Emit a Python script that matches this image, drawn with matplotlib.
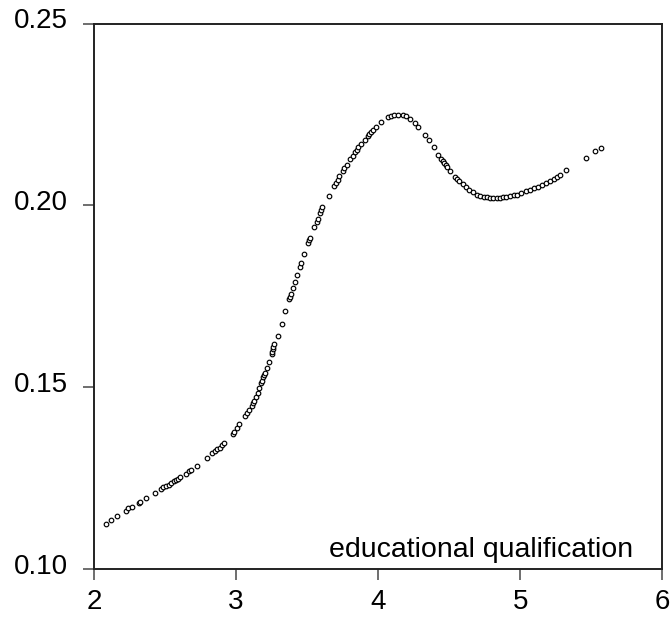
import matplotlib
matplotlib.use('Agg')
import matplotlib.pyplot as plt
import matplotlib.transforms as mtransforms

plt.rcParams['font.family'] = ['Liberation Sans', 'DejaVu Sans']

# Points (education vs fitted value)
educ = [2.082, 2.122, 2.164, 2.223, 2.242, 2.265, 2.315, 2.326, 2.366, 2.432,
        2.472, 2.488, 2.507, 2.526, 2.542, 2.561, 2.577, 2.594, 2.606, 2.646,
        2.667, 2.683, 2.727, 2.796, 2.833, 2.850, 2.868, 2.885, 2.901, 2.915,
        2.977, 2.986, 3.005, 3.021, 3.063, 3.077, 3.094, 3.111, 3.120, 3.129,
        3.139, 3.153, 3.160, 3.174, 3.181, 3.188, 3.197, 3.202, 3.216, 3.232,
        3.254, 3.256, 3.258, 3.263, 3.270, 3.296, 3.322, 3.347, 3.375, 3.382,
        3.387, 3.399, 3.415, 3.430, 3.451, 3.458, 3.479, 3.509, 3.514, 3.521,
        3.551, 3.568, 3.575, 3.592, 3.601, 3.608, 3.655, 3.690, 3.704, 3.716,
        3.727, 3.754, 3.763, 3.780, 3.803, 3.824, 3.836, 3.850, 3.861, 3.880,
        3.906, 3.927, 3.939, 3.948, 3.965, 3.986, 4.021, 4.073, 4.092, 4.111,
        4.139, 4.178, 4.197, 4.223, 4.258, 4.282, 4.333, 4.359, 4.392, 4.424,
        4.441, 4.456, 4.465, 4.477, 4.488, 4.505, 4.542, 4.556, 4.570, 4.597,
        4.618, 4.643, 4.667, 4.699, 4.718, 4.742, 4.766, 4.789, 4.812, 4.836,
        4.859, 4.878, 4.901, 4.925, 4.953, 4.977, 5.005, 5.042, 5.070, 5.094,
        5.122, 5.153, 5.183, 5.211, 5.235, 5.258, 5.277, 5.324, 5.460, 5.528,
        5.566]
fitted = [0.1125, 0.1136, 0.1146, 0.1160, 0.1167, 0.1171, 0.1182, 0.1184, 0.1195, 0.1210,
          0.1220, 0.1225, 0.1228, 0.1232, 0.1237, 0.1241, 0.1245, 0.1249, 0.1252, 0.1262,
          0.1270, 0.1273, 0.1283, 0.1306, 0.1318, 0.1324, 0.1330, 0.1334, 0.1340, 0.1347,
          0.1371, 0.1378, 0.1389, 0.1400, 0.1422, 0.1430, 0.1438, 0.1449, 0.1456, 0.1463,
          0.1474, 0.1485, 0.1497, 0.1511, 0.1517, 0.1527, 0.1535, 0.1540, 0.1554, 0.1569,
          0.1592, 0.1598, 0.1605, 0.1612, 0.1619, 0.1641, 0.1674, 0.1709, 0.1743, 0.1749,
          0.1756, 0.1772, 0.1789, 0.1809, 0.1830, 0.1842, 0.1867, 0.1896, 0.1904, 0.1911,
          0.1940, 0.1955, 0.1964, 0.1979, 0.1988, 0.1996, 0.2027, 0.2054, 0.2063, 0.2071,
          0.2080, 0.2095, 0.2103, 0.2112, 0.2127, 0.2137, 0.2146, 0.2153, 0.2160, 0.2168,
          0.2180, 0.2191, 0.2196, 0.2202, 0.2207, 0.2216, 0.2229, 0.2242, 0.2246, 0.2249,
          0.2250, 0.2248, 0.2246, 0.2239, 0.2228, 0.2217, 0.2195, 0.2179, 0.2160, 0.2138,
          0.2129, 0.2123, 0.2117, 0.2111, 0.2105, 0.2096, 0.2078, 0.2073, 0.2067, 0.2059,
          0.2052, 0.2043, 0.2038, 0.2029, 0.2026, 0.2024, 0.2022, 0.2021, 0.2020, 0.2020,
          0.2021, 0.2022, 0.2024, 0.2026, 0.2029, 0.2030, 0.2034, 0.2040, 0.2043, 0.2047,
          0.2051, 0.2056, 0.2062, 0.2068, 0.2073, 0.2078, 0.2084, 0.2098, 0.2130, 0.2149,
          0.2158]

x_ticks = [2, 3, 4, 5, 6]
y_ticks = [0.10, 0.15, 0.20, 0.25]
y_labels = ['0.10', '0.15', '0.20', '0.25']
label_text = 'educational qualification'

fig = plt.figure(figsize=(6.71, 6.22), dpi=100)
ax = fig.add_axes([0.140, 0.085, 0.847, 0.877])

ax.plot(educ, fitted, linestyle='none', marker='o', markersize=3.3,
        markerfacecolor='white', markeredgecolor='black', markeredgewidth=0.85)

ax.set_xlim(2, 6)
ax.set_ylim(0.10, 0.25)
ax.set_xticks(x_ticks)
ax.set_yticks(y_ticks)
ax.set_yticklabels(y_labels)
ax.tick_params(direction='out', length=8, width=1.2, color='#555555',
               labelsize=20)
ax.tick_params(axis='y', pad=11)
ax.tick_params(axis='x', pad=6)

# y labels sit a little above their ticks in the reference
shift = mtransforms.ScaledTranslation(0, 4 / 72, fig.dpi_scale_trans)
for lab in ax.get_yticklabels():
    lab.set_transform(lab.get_transform() + shift)

for s in ax.spines.values():
    s.set_linewidth(1.4)
    s.set_color('#222222')

ax.text(0.949, 0.022, label_text, transform=ax.transAxes,
        ha='right', va='baseline', fontsize=20.5)

fig.savefig('out.png', dpi=100)
